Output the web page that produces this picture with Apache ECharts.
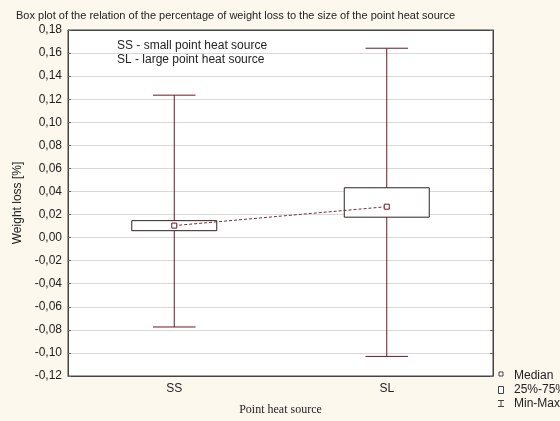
<!DOCTYPE html>
<html>
<head>
<meta charset="utf-8">
<script src="https://cdn.jsdelivr.net/npm/echarts@6/dist/echarts.min.js"></script>
<style>
html,body{margin:0;padding:0;background:#fcf8ee;}
#chart{width:560px;height:421px;}
</style>
</head>
<body>
<div id="chart"></div>
<script>
const categories = ['SS', 'SL'];
const minVals = [-0.0775, -0.103];
const q1Vals = [0.0060, 0.0177];
const medianVals = [0.0104, 0.0268];
const q3Vals = [0.0147, 0.0432];
const maxVals = [0.1235, 0.1642];
const yMin = -0.12, yMax = 0.18, yStep = 0.02;

const titleText = 'Box plot of the relation of the percentage of weight loss to the size of the point heat source';
const noteLines = ['SS - small point heat source', 'SL - large point heat source'];
const legendItems = ['Median', '25%-75%', 'Min-Max'];

const whiskerColor = '#6a1824';
const boxData = categories.map((c, i) => [i, minVals[i], q1Vals[i], medianVals[i], q3Vals[i], maxVals[i]]);

const fmt = v => (Math.abs(v) < 1e-9 ? 0 : v).toFixed(2).replace('.', ',');

const chart = echarts.init(document.getElementById('chart'), null, {renderer: 'canvas'});
const font = 'Liberation Sans, Arial, sans-serif';

const option = {
  backgroundColor: '#fcf8ee',
  animation: false,
  textStyle: {fontFamily: font},
  title: {
    text: titleText, left: 11, top: 5,
    textStyle: {fontSize: 11, fontWeight: 'normal', color: '#222', fontFamily: font}
  },
  grid: {left: 68, right: 67, top: 30, bottom: 43, show: true, backgroundColor: '#fff', borderColor: '#444', borderWidth: 1},
  xAxis: [{
    type: 'category', data: categories, position: 'bottom',
    axisLine: {onZero: false, lineStyle: {color: '#444'}},
    axisTick: {inside: true, length: 3, alignWithLabel: true, lineStyle: {color: '#666'}},
    axisLabel: {fontSize: 12, color: '#222', margin: 7, fontFamily: font},
    name: 'Point heat source', nameLocation: 'middle', nameGap: 28,
    nameTextStyle: {fontFamily: 'Liberation Serif, Times New Roman, serif', fontSize: 12, color: '#222'}
  }, {
    type: 'category', data: categories, position: 'top',
    axisLine: {onZero: false, lineStyle: {color: '#444'}},
    axisTick: {inside: true, length: 3, alignWithLabel: true, lineStyle: {color: '#666'}},
    axisLabel: {show: false}
  }],
  yAxis: [{
    type: 'value', min: yMin, max: yMax, interval: yStep,
    axisLine: {show: true, onZero: false, lineStyle: {color: '#444'}},
    axisTick: {show: true, inside: true, length: 3, lineStyle: {color: '#666'}},
    axisLabel: {fontSize: 12, color: '#222', margin: 6, formatter: fmt, fontFamily: font},
    splitLine: {show: true, lineStyle: {color: '#d9d9d9'}},
    name: 'Weight loss [%]', nameLocation: 'middle', nameGap: 42, nameRotate: 90,
    nameTextStyle: {fontSize: 12, color: '#222', fontFamily: font}
  }, {
    type: 'value', min: yMin, max: yMax, interval: yStep, position: 'right',
    axisLine: {show: true, onZero: false, lineStyle: {color: '#444'}},
    axisTick: {show: true, inside: true, length: 3, lineStyle: {color: '#666'}},
    axisLabel: {show: false}, splitLine: {show: false}
  }],
  series: [{
    type: 'custom',
    name: 'Min-Max',
    data: boxData,
    encode: {x: 0, y: [1, 2, 3, 4, 5]},
    z: 3,
    renderItem: function (params, api) {
      const idx = api.value(0);
      const x = api.coord([idx, 0])[0];
      const pMin = api.coord([idx, api.value(1)])[1];
      const pQ1 = api.coord([idx, api.value(2)])[1];
      const pQ3 = api.coord([idx, api.value(4)])[1];
      const pMax = api.coord([idx, api.value(5)])[1];
      const band = api.size([1, 0])[0];
      const bw = band * 0.4, cw = band * 0.2;
      const ls = {stroke: whiskerColor, lineWidth: 1};
      return {
        type: 'group',
        children: [
          {type: 'line', shape: {x1: x, y1: pMax, x2: x, y2: pMin}, style: ls},
          {type: 'line', shape: {x1: x - cw / 2, y1: pMax, x2: x + cw / 2, y2: pMax}, style: ls},
          {type: 'line', shape: {x1: x - cw / 2, y1: pMin, x2: x + cw / 2, y2: pMin}, style: ls},
          {type: 'rect', shape: {x: x - bw / 2, y: pQ3, width: bw, height: pQ1 - pQ3},
            style: {fill: '#fff', stroke: '#2e2222', lineWidth: 1}}
        ]
      };
    }
  }, {
    type: 'line',
    name: 'Median',
    data: medianVals,
    z: 5,
    symbol: 'rect', symbolSize: 5, showSymbol: true,
    itemStyle: {color: '#fff', borderColor: '#6a1824', borderWidth: 1},
    lineStyle: {color: '#7a2a36', width: 1, type: [3, 2]}
  }],
  graphic: [
    {type: 'text', left: 117, top: 40, style: {text: noteLines[0], font: '12px ' + font, fill: '#222'}},
    {type: 'text', left: 117, top: 54, style: {text: noteLines[1], font: '12px ' + font, fill: '#222'}},
    {type: 'rect', shape: {x: 499, y: 372, width: 4, height: 4}, style: {fill: '#fff', stroke: '#444', lineWidth: 1}},
    {type: 'text', left: 514, top: 370, style: {text: legendItems[0], font: '12px ' + font, fill: '#222'}},
    {type: 'rect', shape: {x: 498.5, y: 386.5, width: 5, height: 7}, style: {fill: '#fff', stroke: '#444', lineWidth: 1}},
    {type: 'text', left: 514, top: 384, style: {text: legendItems[1], font: '12px ' + font, fill: '#222'}},
    {type: 'line', shape: {x1: 501, y1: 400, x2: 501, y2: 407}, style: {stroke: '#444', lineWidth: 1}},
    {type: 'line', shape: {x1: 498, y1: 400.5, x2: 504, y2: 400.5}, style: {stroke: '#444', lineWidth: 1}},
    {type: 'line', shape: {x1: 498, y1: 406.5, x2: 504, y2: 406.5}, style: {stroke: '#444', lineWidth: 1}},
    {type: 'text', left: 514, top: 398, style: {text: legendItems[2], font: '12px ' + font, fill: '#222'}}
  ]
};
chart.setOption(option);
</script>
</body>
</html>
